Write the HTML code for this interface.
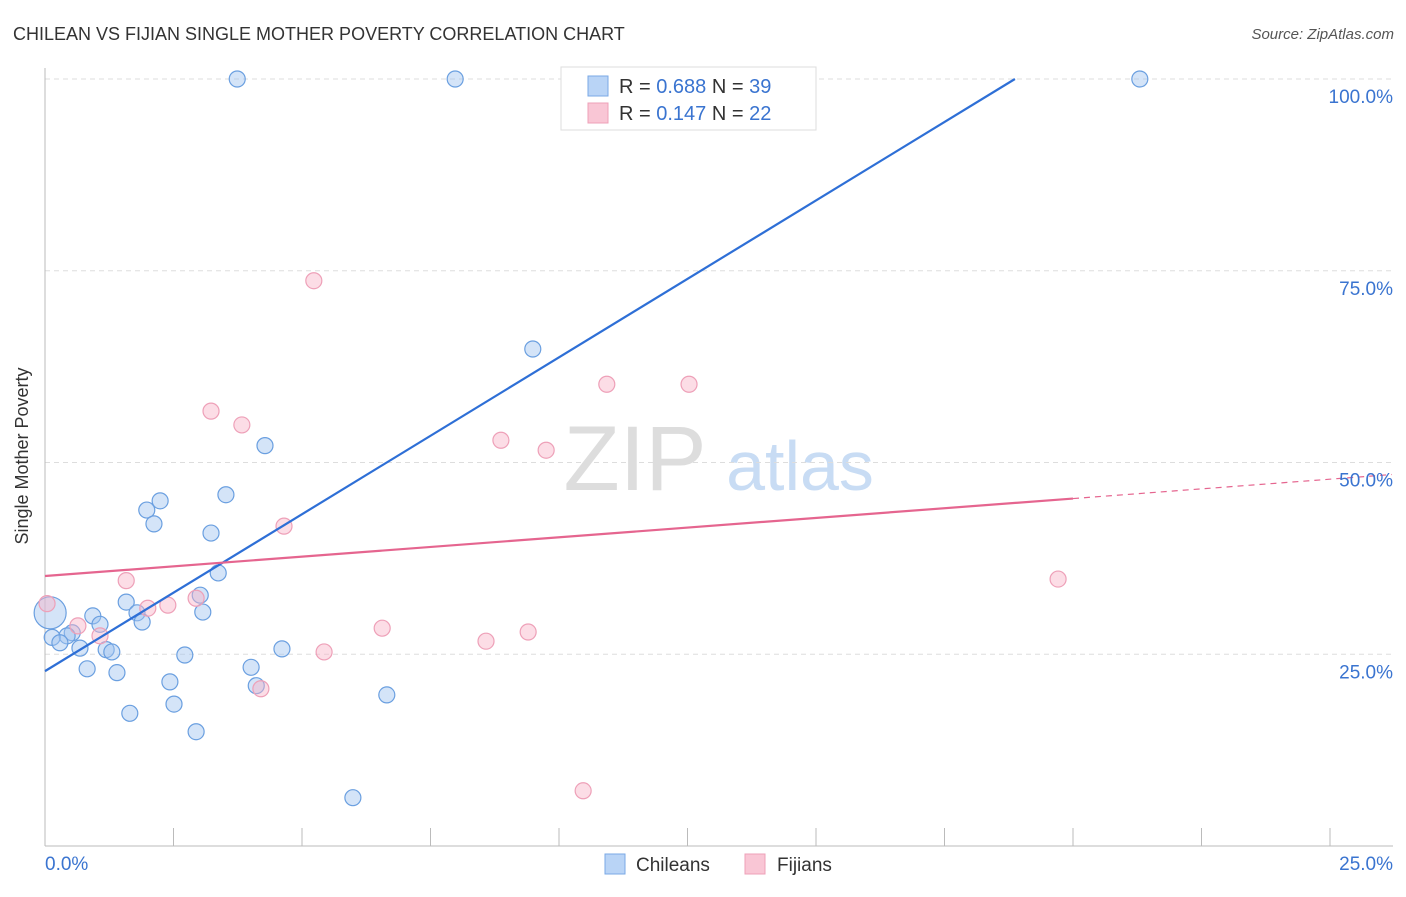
<!DOCTYPE html>
<html><head><meta charset="utf-8"><style>
body{margin:0;background:#fff;font-family:"Liberation Sans",sans-serif;}
svg text{font-family:"Liberation Sans",sans-serif;}
</style></head><body>
<svg id="chart" width="1406" height="892" xmlns="http://www.w3.org/2000/svg">
<text x="13" y="40" font-size="18" fill="#333">CHILEAN VS FIJIAN SINGLE MOTHER POVERTY CORRELATION CHART</text>
<text x="1394" y="39" font-size="15" fill="#555" font-style="italic" text-anchor="end">Source: ZipAtlas.com</text>
<text x="28" y="456" font-size="18" fill="#333" text-anchor="middle" transform="rotate(-90 28 456)">Single Mother Poverty</text>
<g><text x="635" y="490" font-size="92" fill="#ddd" font-family="Liberation Serif" text-anchor="middle">ZIP</text><text x="800" y="490" font-size="70" fill="#c8dcf4" text-anchor="middle">atlas</text></g>
<g id="grid"></g><g id="marks"></g><g id="lines"></g>
<g>
<rect x="561" y="67" width="255" height="63" fill="#fff" stroke="#ddd"/>
<rect x="588" y="76" width="20" height="20" fill="#b9d4f6" stroke="#7aa8e6"/>
<rect x="588" y="103" width="20" height="20" fill="#f9c6d5" stroke="#eea0b8"/>
<text x="619" y="93" font-size="20" fill="#333">R = <tspan fill="#3a74d0">0.688</tspan>    N = <tspan fill="#3a74d0">39</tspan></text>
<text x="619" y="120" font-size="20" fill="#333">R =  <tspan fill="#3a74d0">0.147</tspan>    N = <tspan fill="#3a74d0">22</tspan></text>
</g>
<g>
<rect x="605" y="854" width="20" height="20" fill="#b9d4f6" stroke="#7aa8e6"/>
<text x="636" y="871" font-size="19" fill="#333">Chileans</text>
<rect x="745" y="854" width="20" height="20" fill="#f9c6d5" stroke="#eea0b8"/>
<text x="777" y="871" font-size="19" fill="#333">Fijians</text>
</g>
</svg>
<script>
const yTicks=[25,50,75,100];
const yTickLabels=["25.0%","50.0%","75.0%","100.0%"];
const xLabels=["0.0%","25.0%"];
const chileX=[3.74,7.98,14.2,21.3,9.49,4.28,3.52,2.24,1.98,2.12,3.23,3.37,3.02,1.58,3.07,0.93,1.79,1.89,1.07,0.53,0.43,0.10,0.14,0.29,0.68,1.19,1.30,2.72,4.61,0.82,1.40,4.01,2.43,4.11,6.65,2.51,1.65,2.94,5.99];
const chileY=[100,100,100,100,64.8,52.2,45.8,45.0,43.8,42.0,40.8,35.6,32.7,31.8,30.5,30.0,30.4,29.2,28.9,27.8,27.4,30.4,27.2,26.5,25.8,25.6,25.3,24.9,25.7,23.1,22.6,23.3,21.4,20.9,19.7,18.5,17.3,14.9,6.3];
const fijiX=[5.23,3.23,3.83,10.93,12.53,8.87,9.75,4.65,1.58,0.04,2.0,2.39,2.94,0.64,1.07,6.56,9.40,8.58,5.43,4.20,10.47,19.71];
const fijiY=[73.7,56.7,54.9,60.2,60.2,52.9,51.6,41.7,34.6,31.6,31.0,31.4,32.3,28.7,27.4,28.4,27.9,26.7,25.3,20.5,7.2,34.8];
const chileLine=[22.8,0.0417];// intercept, slope (pct per pct) -> computed as 100 at 18.87
const fijiLine=[35.2,0.5];
const NS="http://www.w3.org/2000/svg";
const X=v=>45+v*51.4, Y=v=>846-v*7.67;
function mk(t,a,p){const e=document.createElementNS(NS,t);for(const k in a)e.setAttribute(k,a[k]);p.appendChild(e);return e;}
const grid=document.getElementById('grid'),marks=document.getElementById('marks'),lines=document.getElementById('lines'),svg=document.getElementById('chart');
yTicks.forEach((t,i)=>{
const g=mk('line',{x1:45,x2:1393,y1:Y(t),y2:Y(t),stroke:'#ddd','stroke-dasharray':'5,4'},grid);


const l=mk('text',{x:1393,y:Y(t)+24,'font-size':19,fill:'#3a74d0','text-anchor':'end'},svg);
l.textContent=yTickLabels[i];


});
const ax=mk('line',{x1:45,x2:1393,y1:846,y2:846,stroke:'#bbb'},grid);


const ay=mk('line',{x1:45,x2:45,y1:68,y2:846,stroke:'#bbb'},grid);


for(let i=0;i<=10;i++){const tk=mk('line',{x1:X(i*2.5),x2:X(i*2.5),y1:828,y2:846,stroke:'#bbb'},grid);

}
[[0,'start',45],[25,'end',1393]].forEach((d,i)=>{const t=mk('text',{x:d[2],y:870,'font-size':19,fill:'#3a74d0','text-anchor':d[1]},svg);t.textContent=xLabels[i];

});
chileX.forEach((x,i)=>{const big=(i===21);const c=mk('circle',{cx:X(x),cy:Y(chileY[i]),r:big?16:8,fill:'rgba(160,196,240,0.45)',stroke:'#6a9fe0','stroke-width':1.2},marks);

});
fijiX.forEach((x,i)=>{const c=mk('circle',{cx:X(x),cy:Y(fijiY[i]),r:8,fill:'rgba(248,180,200,0.45)',stroke:'#eea0b8','stroke-width':1.2},marks);

});
const cs=(100-chileLine[0])/18.87;
const bl=mk('line',{x1:X(0),y1:Y(chileLine[0]),x2:X(18.87),y2:Y(chileLine[0]+cs*18.87),stroke:'#2e6fd6','stroke-width':2.2},lines);


const ps=(45.3-fijiLine[0])/20;
const pl=mk('line',{x1:X(0),y1:Y(fijiLine[0]),x2:X(20),y2:Y(fijiLine[0]+ps*20),stroke:'#e5658f','stroke-width':2.2},lines);


const pd=mk('line',{x1:X(20),y1:Y(fijiLine[0]+ps*20),x2:X(26.2),y2:Y(fijiLine[0]+ps*26.2),stroke:'#e5658f','stroke-width':1.2,'stroke-dasharray':'6,5'},lines);


</script>
</body></html>
